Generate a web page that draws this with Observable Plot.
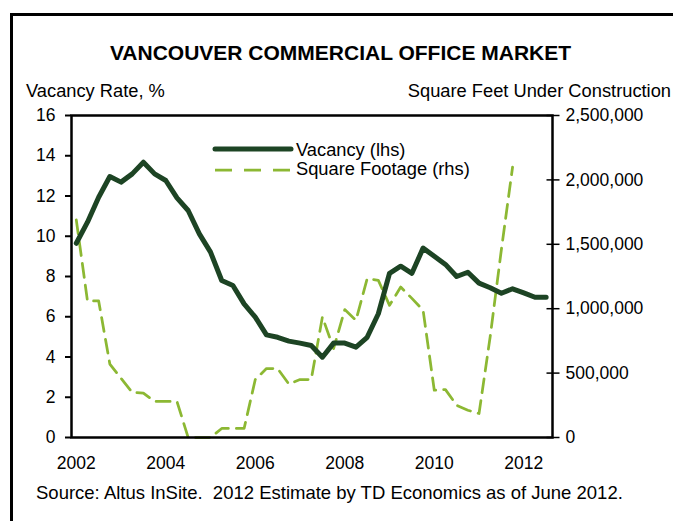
<!DOCTYPE html>
<html>
<head>
<meta charset="utf-8">
<script src="https://cdn.jsdelivr.net/npm/d3@7"></script>
<script src="https://cdn.jsdelivr.net/npm/@observablehq/plot@0.6"></script>
<style>
  html, body { margin: 0; padding: 0; background: #fff; overflow: hidden; }
  #wrap { position: relative; width: 673px; height: 521px; overflow: hidden;
          font-family: "Liberation Sans", Arial, sans-serif; color: #000; }
  #border { position: absolute; left: 10px; top: 13px; width: 800px; height: 600px;
            border-left: 3px solid #000; border-top: 3px solid #000; }
  .t { position: absolute; white-space: pre; line-height: 1; }
  #chart { position: absolute; left: 0; top: 0; }
</style>
</head>
<body>
<div id="wrap">
  <div id="border"></div>
  <div id="chart"></div>
  <div class="t" id="title" style="font-weight:bold;font-size:21px;top:42px;left:0;width:681px;text-align:center;">VANCOUVER COMMERCIAL OFFICE MARKET</div>
  <div class="t" style="font-size:18.3px;top:82px;left:26px;">Vacancy Rate, %</div>
  <div class="t" style="font-size:18.3px;top:82px;right:2px;text-align:right;">Square Feet Under Construction</div>
  <div class="t" style="font-size:18.5px;top:484px;left:36px;">Source: Altus InSite.  2012 Estimate by TD Economics as of June 2012.</div>
  <svg id="legendsvg" style="position:absolute;left:0;top:0;" width="673" height="521">
    <line x1="215" x2="291" y1="149" y2="149" stroke="#1d4424" stroke-width="5" stroke-linecap="round"/>
    <line x1="215" x2="290" y1="170" y2="170" stroke="#8cb833" stroke-width="2.75" stroke-dasharray="17,12"/>
  </svg>
  <div class="t" style="font-size:18.3px;top:141px;left:296px;">Vacancy (lhs)</div>
  <div class="t" style="font-size:18.3px;top:160px;left:296px;">Square Footage (rhs)</div>
</div>
<script>
// ---- data ----
const quarters = [
  "2002Q1","2002Q2","2002Q3","2002Q4","2003Q1","2003Q2","2003Q3","2003Q4",
  "2004Q1","2004Q2","2004Q3","2004Q4","2005Q1","2005Q2","2005Q3","2005Q4",
  "2006Q1","2006Q2","2006Q3","2006Q4","2007Q1","2007Q2","2007Q3","2007Q4",
  "2008Q1","2008Q2","2008Q3","2008Q4","2009Q1","2009Q2","2009Q3","2009Q4",
  "2010Q1","2010Q2","2010Q3","2010Q4","2011Q1","2011Q2","2011Q3","2011Q4",
  "2012Q1","2012Q2","2012Q3"
];
const vacancy = [
  9.65, 10.7, 11.94, 12.97, 12.69, 13.1, 13.68, 13.1,
  12.77, 11.91, 11.28, 10.12, 9.21, 7.8, 7.55, 6.64,
  5.98, 5.1, 4.98, 4.79, 4.69, 4.57, 3.99, 4.69,
  4.69, 4.49, 4.98, 6.15, 8.16, 8.51, 8.16, 9.41,
  9.01, 8.6, 8.0, 8.21, 7.67, 7.44, 7.17, 7.39,
  7.19, 6.97, 6.97
];
const squareFootage = [
  1690000, 1060000, 1060000, 570000, 460000, 350000, 345000, 280000,
  280000, 280000, 0, 0, 0, 70000, 70000, 70000,
  450000, 535000, 535000, 415000, 450000, 450000, 936000, 690000,
  993000, 910000, 1233000, 1220000, 1026000, 1168000, 1080000, 988000,
  367000, 372000, 250000, 212000, 186000, 784000, 1460000, 2100000
];
const yearTicks = [2002, 2004, 2006, 2008, 2010, 2012];
const vacancyTicks = [0, 2, 4, 6, 8, 10, 12, 14, 16];
const sqftTicks = [0, 500000, 1000000, 1500000, 2000000, 2500000];
const vacancyMax = 16;
const sqftMax = 2500000;

// ---- build ----
const qToYear = q => +q.slice(0, 4) + (+q.slice(5) - 1) / 4;
const k = vacancyMax / sqftMax;
const vacData = vacancy.map((v, i) => ({t: qToYear(quarters[i]), v}));
const sqData = squareFootage.map((v, i) => ({t: qToYear(quarters[i]), v: v * k}));
const fmt = d3.format(",");
const rightTickPos = sqftTicks.map(v => v * k);

const plot = Plot.plot({
  width: 673,
  height: 521,
  marginTop: 115,
  marginBottom: 84,
  marginLeft: 71,
  marginRight: 121,
  style: {background: "none", fontFamily: "'Liberation Sans', Arial, sans-serif", fontSize: "17.5px", color: "#000", overflow: "visible"},
  x: {type: "linear", domain: [2001.893, 2012.642]},
  y: {domain: [0, vacancyMax]},
  marks: [
    Plot.line(sqData, {x: "t", y: "v", stroke: "#8cb833", strokeWidth: 2.75, strokeDasharray: "14,8"}),
    Plot.line(vacData, {x: "t", y: "v", stroke: "#1d4424", strokeWidth: 5, strokeLinejoin: "round", strokeLinecap: "round"}),
    Plot.frame({stroke: "#000", strokeWidth: 2.5}),
    Plot.axisY({anchor: "left", ticks: vacancyTicks, tickSize: 6, tickPadding: 10, strokeWidth: 2, label: null}),
    Plot.axisY({anchor: "right", ticks: rightTickPos, tickSize: 13, dx: -6.5, strokeWidth: 1.5,
      tickFormat: () => "", label: null}),
    Plot.axisY({anchor: "right", ticks: rightTickPos, tickSize: 0, tickPadding: 13, label: null,
      tickFormat: d => fmt(Math.round(d / k))}),
    Plot.axisX({ticks: yearTicks, tickSize: 0, tickPadding: 19, tickFormat: d => String(d), label: null})
  ]
});
document.getElementById("chart").appendChild(plot);
</script>
</body>
</html>
